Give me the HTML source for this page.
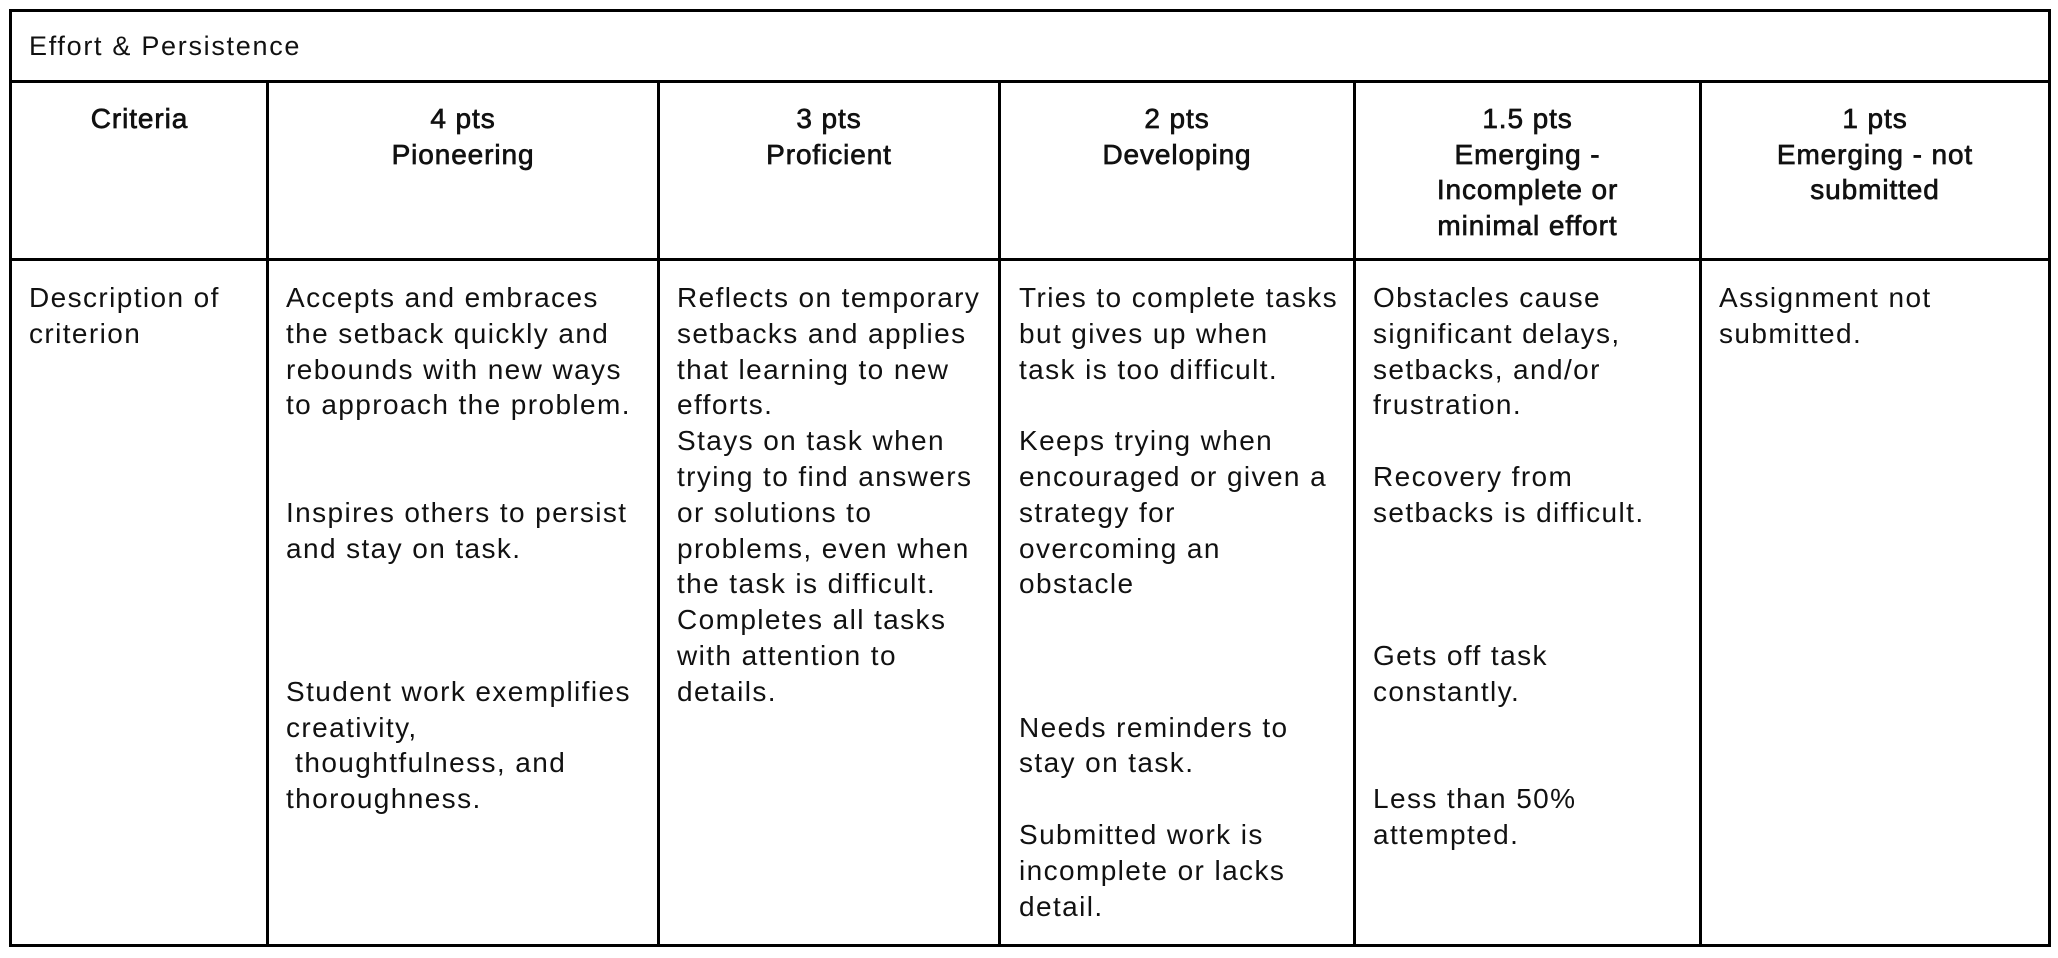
<!DOCTYPE html>
<html><head><meta charset="utf-8"><style>
html,body{margin:0;padding:0;background:#fff;}
body{width:2058px;height:958px;position:relative;overflow:hidden;font-family:"Liberation Sans",sans-serif;color:#111;}
.l{position:absolute;background:#000;}
.t{position:absolute;font-size:28px;line-height:35.8px;white-space:nowrap;letter-spacing:1.4px;}
.h{position:absolute;font-size:28px;line-height:35.5px;text-align:center;white-space:nowrap;top:101px;font-weight:normal;-webkit-text-stroke:0.7px #111;letter-spacing:0.9px;}
</style></head><body>
<div class="l" style="left:9px;top:9px;width:2042px;height:3px"></div>
<div class="l" style="left:9px;top:944px;width:2042px;height:3px"></div>
<div class="l" style="left:9px;top:9px;width:3px;height:938px"></div>
<div class="l" style="left:2048px;top:9px;width:3px;height:938px"></div>
<div class="l" style="left:9px;top:80px;width:2042px;height:3px"></div>
<div class="l" style="left:9px;top:258px;width:2042px;height:3px"></div>
<div class="l" style="left:266px;top:80px;width:3px;height:866px"></div>
<div class="l" style="left:657px;top:80px;width:3px;height:866px"></div>
<div class="l" style="left:998px;top:80px;width:3px;height:866px"></div>
<div class="l" style="left:1353px;top:80px;width:3px;height:866px"></div>
<div class="l" style="left:1699px;top:80px;width:3px;height:866px"></div>

<div class="t" style="left:29px;top:29px;font-size:27px;letter-spacing:1.7px">Effort &amp; Persistence</div>

<div class="h" style="left:12px;width:255px">Criteria</div>
<div class="h" style="left:268px;width:390px">4 pts<br>Pioneering</div>
<div class="h" style="left:659px;width:340px">3 pts<br>Proficient</div>
<div class="h" style="left:1000px;width:354px">2 pts<br>Developing</div>
<div class="h" style="left:1355px;width:345px">1.5 pts<br>Emerging -<br>Incomplete or<br>minimal effort</div>
<div class="h" style="left:1701px;width:348px">1 pts<br>Emerging - not<br>submitted</div>

<div class="t" style="left:29px;top:280px">Description of<br>criterion</div>
<div class="t" style="left:286px;top:280px">Accepts and embraces<br>the setback quickly and<br>rebounds with new ways<br>to approach the problem.<br>&nbsp;<br>&nbsp;<br>Inspires others to persist<br>and stay on task.<br>&nbsp;<br>&nbsp;<br>&nbsp;<br>Student work exemplifies<br>creativity,<br>&nbsp;thoughtfulness, and<br>thoroughness.</div>
<div class="t" style="left:677px;top:280px">Reflects on temporary<br>setbacks and applies<br>that learning to new<br>efforts.<br>Stays on task when<br>trying to find answers<br>or solutions to<br>problems, even when<br>the task is difficult.<br>Completes all tasks<br>with attention to<br>details.</div>
<div class="t" style="left:1019px;top:280px">Tries to complete tasks<br>but gives up when<br>task is too difficult.<br>&nbsp;<br>Keeps trying when<br>encouraged or given a<br>strategy for<br>overcoming an<br>obstacle<br>&nbsp;<br>&nbsp;<br>&nbsp;<br>Needs reminders to<br>stay on task.<br>&nbsp;<br>Submitted work is<br>incomplete or lacks<br>detail.</div>
<div class="t" style="left:1373px;top:280px">Obstacles cause<br>significant delays,<br>setbacks, and/or<br>frustration.<br>&nbsp;<br>Recovery from<br>setbacks is difficult.<br>&nbsp;<br>&nbsp;<br>&nbsp;<br>Gets off task<br>constantly.<br>&nbsp;<br>&nbsp;<br>Less than 50%<br>attempted.</div>
<div class="t" style="left:1719px;top:280px">Assignment not<br>submitted.</div>
</body></html>
